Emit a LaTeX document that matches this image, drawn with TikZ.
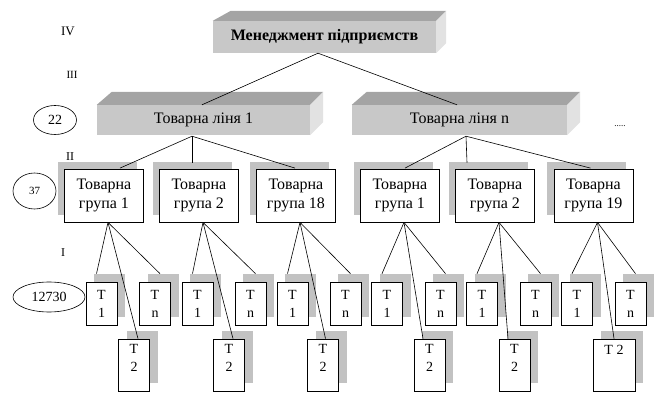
\documentclass[tikz,border=0pt]{standalone}
\usepackage{fontspec}
\setmainfont{Liberation Serif}
\usetikzlibrary{calc,shadows,shapes.geometric}
\definecolor{facegray}{HTML}{C8C8C8}
\definecolor{topgray}{HTML}{A4A4A4}
\definecolor{sidegray}{HTML}{E2E2E2}
\definecolor{shadegray}{HTML}{C2C2C2}
\begin{document}
\begin{tikzpicture}[x=1pt,y=-1pt,
  slabfront/.style={fill=facegray, inner sep=0pt, align=center},
  groupbox/.style={draw, line width=0.8pt, fill=white, inner sep=0pt,
    minimum width=79pt, minimum height=53pt, align=center,
    font=\fontsize{16}{19}\selectfont,
    general shadow={fill=shadegray, shadow xshift=-7pt, shadow yshift=7pt}},
  itembox/.style={draw, line width=0.7pt, fill=white, inner sep=0pt,
    minimum width=31pt, minimum height=43pt, align=center,
    font=\fontsize{14}{18}\selectfont,
    general shadow={fill=shadegray, shadow xshift=8pt, shadow yshift=8pt}},
  lowbox/.style={itembox, minimum height=52pt},
  levellabel/.style={font=\fontsize{12}{14}\selectfont},
  countoval/.style={ellipse, draw, line width=0.6pt, inner sep=0pt},
  link/.style={line width=0.6pt}]
\useasboundingbox (0,0) rectangle (654,393);

% level labels
\node[levellabel, font=\fontsize{13}{15}\selectfont] (lIV) at (68,31) {IV};
\node[levellabel, font=\fontsize{11}{13}\selectfont] (lIII) at (72,75) {III};
\node[levellabel] (lII) at (70,157) {II};
\node[levellabel] (lI) at (63,253) {I};

% counts per level
\node[countoval, minimum width=43pt, minimum height=29pt, font=\fontsize{14}{16}\selectfont] (c22) at (55,120) {22};
\node[countoval, minimum width=43pt, minimum height=36pt, font=\fontsize{11}{13}\selectfont] (c37) at (34.5,191) {37};
\node[countoval, minimum width=72pt, minimum height=30pt, font=\fontsize{14}{16}\selectfont] (c12730) at (49,297) {12730};

% level IV: enterprise management slab
\node[slabfront, minimum width=223pt, minimum height=32pt, font=\fontsize{16}{19}\selectfont\bfseries] (mgmt) at (324.5,37) {Менеджмент підприємств};
\fill[topgray] (mgmt.north west) -- ++(18,-10) -- ($(mgmt.north east)+(10,-10)$) -- (mgmt.north east) -- cycle;
\fill[sidegray] (mgmt.north east) -- ++(10,-10) -- ($(mgmt.south east)+(10,-10)$) -- (mgmt.south east) -- cycle;

% level III: product lines
\node[slabfront, minimum width=213pt, minimum height=30pt, font=\fontsize{16}{19}\selectfont] (l1) at (203.5,120) {Товарна ліня 1};
\fill[topgray] (l1.north west) -- ++(15,-13) -- ($(l1.north east)+(13,-13)$) -- (l1.north east) -- cycle;
\fill[sidegray] (l1.north east) -- ++(13,-13) -- ($(l1.south east)+(13,-13)$) -- (l1.south east) -- cycle;

\node[slabfront, minimum width=215pt, minimum height=30pt, font=\fontsize{16}{19}\selectfont] (ln) at (459.5,120) {Товарна ліня n};
\fill[topgray] (ln.north west) -- ++(15,-13) -- ($(ln.north east)+(13,-13)$) -- (ln.north east) -- cycle;
\fill[sidegray] (ln.north east) -- ++(13,-13) -- ($(ln.south east)+(13,-13)$) -- (ln.south east) -- cycle;

\node[font=\fontsize{9}{10}\selectfont] (more) at (620,126) {.....};

% level II: product groups
\node[groupbox] (g1) at (104,195.5) {Товарна\\група 1};
\node[groupbox] (g2) at (199,195.5) {Товарна\\група 2};
\node[groupbox] (g3) at (296,195.5) {Товарна\\група 18};
\node[groupbox] (g4) at (400,195.5) {Товарна\\група 1};
\node[groupbox] (g5) at (495,195.5) {Товарна\\група 2};
\node[groupbox] (g6) at (593.5,195.5) {Товарна\\група 19};

% level I: items
\node[itembox] (a1) at (101.5,303.5) {T\\1};
\node[itembox] (an) at (155,303.5) {T\\n};
\node[lowbox] (a2) at (134,365) {};
\node[itembox] (b1) at (197.5,303.5) {T\\1};
\node[itembox] (bn) at (250.5,303.5) {T\\n};
\node[lowbox] (b2) at (229,365) {};
\node[itembox] (c1) at (292.5,303.5) {T\\1};
\node[itembox] (cn) at (345.5,303.5) {T\\n};
\node[lowbox] (c2) at (323,365) {};
\node[itembox] (d1) at (387,303.5) {T\\1};
\node[itembox] (dn) at (440.5,303.5) {T\\n};
\node[lowbox] (d2) at (429.5,365) {};
\node[itembox] (e1) at (482,303.5) {T\\1};
\node[itembox] (en) at (535.5,303.5) {T\\n};
\node[lowbox] (e2) at (514.5,365) {};
\node[itembox] (f1) at (577,303.5) {T\\1};
\node[itembox] (fn) at (630.5,303.5) {T\\n};
\node[lowbox, minimum width=42pt] (f2) at (614,365) {};

\foreach \b in {a2,b2,c2,d2,e2}
  \node[font=\fontsize{14}{18}\selectfont, align=center, anchor=north] (\b txt) at ($(\b.north)+(0,2)$) {T\\2};
\node[font=\fontsize{14}{18}\selectfont, anchor=north] (f2txt) at ($(f2.north)+(0,3)$) {T 2};

% connectors IV -> III
\coordinate (mgmtb) at ($(mgmt.south)+(-6.5,0)$);
\draw[link] (mgmtb) -- ($(l1.north)+(-1.5,0)$);
\draw[link] (mgmtb) -- ($(ln.north)+(-2.5,0)$);

% connectors III -> II
\coordinate (l1b) at ($(l1.south)+(-11.5,1)$);
\draw[link] (l1b) -- ($(g1.north)+(16,-0.5)$);
\draw[link] (l1b) -- ($(g2.north)+(-7,-6)$);
\draw[link] (l1b) -- ($(g3.north)+(-1,-0.5)$);
\coordinate (lnb) at ($(ln.south)+(6.5,1)$);
\draw[link] (lnb) -- ($(g4.north)+(5,-0.5)$);
\draw[link] (lnb) -- ($(g5.north)+(-28,-6)$);
\draw[link] (lnb) -- ($(g6.north)+(-3,-0.5)$);

% connectors II -> I
\foreach \g/\one/\two/\enn/\dx in {g1/a1/a2/an/4, g2/b1/b2/bn/4, g3/c1/c2/cn/2.5,
                                   g4/d1/d2/dn/-6.5, g5/e1/e2/en/-6.5, g6/f1/f2/fn/0} {
  \coordinate (\g b) at ($(\g.south)+(4,0)$);
  \draw[link] (\g b) -- ($(\one.north)+(-5,-8)$);
  \draw[link] (\g b) -- ($(\enn.north)+(5,-8)$);
  \draw[link] (\g b) -- ($(\two.north)+(\dx,0)$);
}
\end{tikzpicture}
\end{document}
